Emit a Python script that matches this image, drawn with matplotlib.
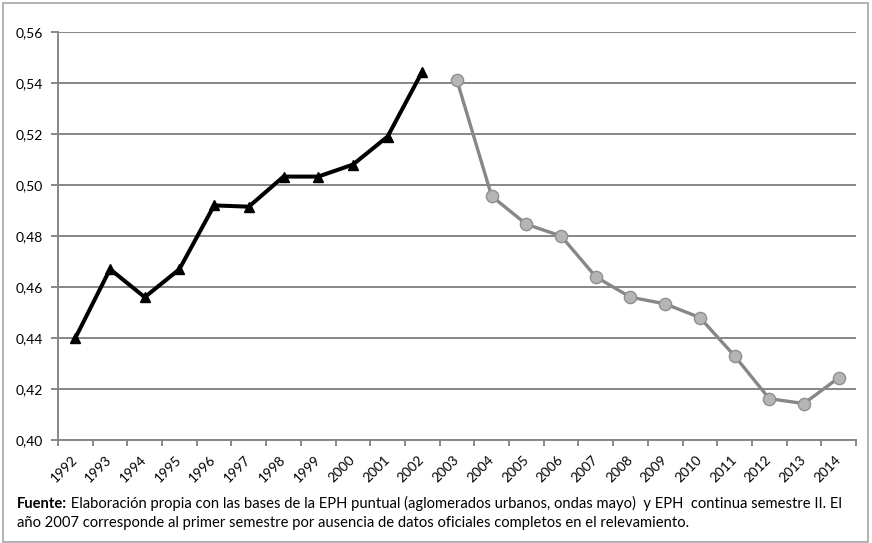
import matplotlib
matplotlib.use('Agg')
import matplotlib.pyplot as plt
from matplotlib.patches import Rectangle
import numpy as np

# valores
years = [str(y) for y in range(1992, 2015)]
eph_puntual = [0.440, 0.467, 0.456, 0.467, 0.492, 0.4915, 0.5033, 0.5033, 0.508, 0.519, 0.5445]
eph_continua = [0.541, 0.4956, 0.4846, 0.480, 0.464, 0.456, 0.4534, 0.448, 0.433, 0.4162, 0.4143, 0.4244]
yticks = [0.40, 0.42, 0.44, 0.46, 0.48, 0.50, 0.52, 0.54, 0.56]
caption_bold = 'Fuente:'
caption_1 = ' Elaboración propia con las bases de la EPH puntual (aglomerados urbanos, ondas mayo)  y EPH  continua semestre II. El'
caption_2 = 'año 2007 corresponde al primer semestre por ausencia de datos oficiales completos en el relevamiento.'

plt.rcParams['font.family'] = ['Lato', 'DejaVu Sans']

W, H = 872, 543
fig = plt.figure(figsize=(W / 100, H / 100), dpi=100)
ax = fig.add_axes([58 / W, 1 - 440 / H, (856 - 58) / W, 408 / H])

grid_c = '#878787'
x1 = np.arange(len(eph_puntual))
x2 = np.arange(len(eph_puntual), len(eph_puntual) + len(eph_continua))

ax.plot(x1, eph_puntual, color='black', lw=2.9, marker='^', ms=6.5,
        mfc='black', mec='black', zorder=3, solid_joinstyle='miter')
ax.plot(x2, eph_continua, color='#878787', lw=2.4, marker='o', ms=8.8,
        mfc='#b5b5b5', mec='#8f8f8f', mew=1.0, zorder=3)

ax.set_xlim(-0.5, len(years) - 0.5)
ax.set_ylim(0.40, 0.56)
ax.set_yticks(yticks)
ax.set_yticklabels([('%.2f' % v).replace('.', ',') for v in yticks], fontsize=10)
ax.yaxis.grid(True, color=grid_c, lw=1.4)
ax.set_axisbelow(True)

ax.set_xticks(np.arange(len(years)))
ax.set_xticklabels(years, rotation=45, ha='right', va='center',
                   rotation_mode='anchor', fontsize=9.8)
ax.set_xticks(np.arange(len(years) + 1) - 0.5, minor=True)
ax.tick_params(axis='x', which='major', length=0, pad=13)
ax.tick_params(axis='x', which='minor', length=4, color=grid_c, width=1.4)
ax.tick_params(axis='y', length=5, color=grid_c, width=1.4, pad=6)

for s in ['top', 'right']:
    ax.spines[s].set_visible(False)
for s in ['left', 'bottom']:
    ax.spines[s].set_color(grid_c)
    ax.spines[s].set_linewidth(1.4)

# pie de grafico
y1 = 1 - 508 / H
t = fig.text(17 / W, y1, caption_bold, fontsize=10.6, fontweight='bold', va='baseline')
fig.add_artist(plt.Annotation(caption_1, xy=(1, y1), xycoords=(t, 'figure fraction'),
                              va='baseline', fontsize=10.6))
fig.text(17 / W, 1 - 527 / H, caption_2, fontsize=10.6, va='baseline')

# marco exterior
fig.add_artist(Rectangle((3 / W, 1 / H), 865 / W, 539 / H, transform=fig.transFigure,
                         fill=False, edgecolor='#a6a6a6', lw=1.2))

fig.savefig('out.png', dpi=100)
